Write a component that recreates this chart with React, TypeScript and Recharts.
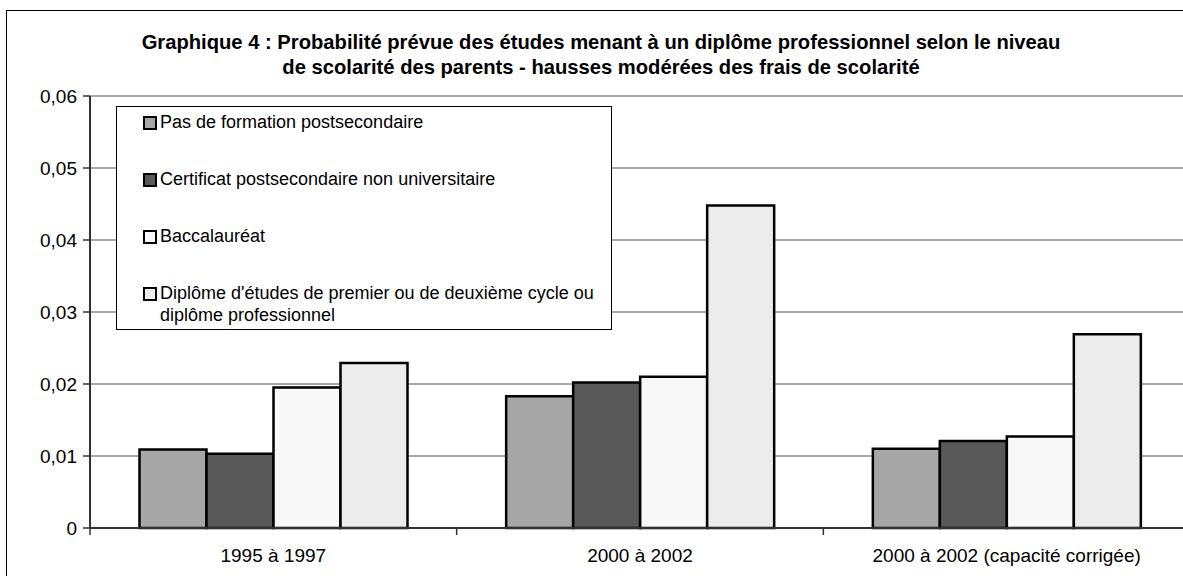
import React from "react";
import { BarChart, Bar, XAxis, YAxis, CartesianGrid, Legend } from "recharts";

const periods = ["1995 à 1997", "2000 à 2002", "2000 à 2002 (capacité corrigée)"];
const pasDeFormation = [0.0109, 0.0183, 0.011];
const certificat = [0.0103, 0.0202, 0.0121];
const baccalaureat = [0.0195, 0.021, 0.0127];
const diplomeSup = [0.0229, 0.0448, 0.0269];
const yTicks = [0, 0.01, 0.02, 0.03, 0.04, 0.05, 0.06];
// category boundaries (integers) and category centres (halves) on a 0..3 scale
const xTicks = [0, 0.5, 1, 1.5, 2, 2.5, 3];

const SERIES = [
  { key: "pas", name: "Pas de formation postsecondaire", color: "#a6a6a6", values: pasDeFormation },
  { key: "cert", name: "Certificat postsecondaire non universitaire", color: "#595959", values: certificat },
  { key: "bac", name: "Baccalauréat", color: "#f8f8f8", values: baccalaureat },
  {
    key: "dip",
    name: "Diplôme d'études de premier ou de deuxième cycle ou diplôme professionnel",
    color: "#ececec",
    values: diplomeSup,
  },
];

const FONT = "'Liberation Sans', Arial, sans-serif";

const data = periods.map((p, i) => {
  const row: Record<string, string | number> = { period: p, idx: i + 0.5 };
  SERIES.forEach((s) => (row[s.key] = s.values[i]));
  return row;
});

function XTick(props: any) {
  const { x, y, payload } = props;
  const v = payload.value as number;
  if (Number.isInteger(v)) {
    return <line x1={x} x2={x} y1={y} y2={y + 7} stroke="#333" strokeWidth={1.5} />;
  }
  return (
    <text x={x} y={y + 34} textAnchor="middle" fill="#000" fontSize={19} fontFamily={FONT}>
      {periods[Math.floor(v)]}
    </text>
  );
}

function LegendBox() {
  return (
    <div
      style={{
        width: 496,
        height: 224,
        boxSizing: "border-box",
        border: "1px solid #000",
        background: "#fff",
        fontFamily: FONT,
        fontSize: 18,
        color: "#000",
        paddingLeft: 26,
        paddingTop: 4,
      }}
    >
      {SERIES.map((s) => (
        <div key={s.key} style={{ display: "flex", alignItems: "flex-start", height: 57, lineHeight: "22px" }}>
          <span
            style={{
              display: "inline-block",
              width: 10,
              height: 10,
              border: "2px solid #000",
              background: s.color,
              marginTop: 5,
              marginRight: 3,
              flex: "none",
            }}
          />
          <span style={{ width: 440 }}>{s.name}</span>
        </div>
      ))}
    </div>
  );
}

export default function App() {
  return (
    <div style={{ position: "absolute", left: 0, top: 0, width: 1183, height: 576, overflow: "hidden", background: "#fff" }}>
      <div
        style={{
          position: "absolute",
          left: 6,
          top: 10,
          width: 1200,
          height: 600,
          border: "1.5px solid #000",
          boxSizing: "border-box",
        }}
      />
      <div
        style={{
          position: "absolute",
          left: 0,
          top: 30,
          width: 1202,
          textAlign: "center",
          fontFamily: FONT,
          fontWeight: "bold",
          fontSize: 20.2,
          lineHeight: "25px",
          color: "#000",
        }}
      >
        Graphique 4 : Probabilité prévue des études menant à un diplôme professionnel selon le niveau
        <br />
        de scolarité des parents - hausses modérées des frais de scolarité
      </div>
      <div style={{ position: "absolute", left: 0, top: 0 }}>
        <BarChart
          width={1183}
          height={576}
          data={data}
          margin={{ top: 96, right: -7, bottom: 18, left: 0 }}
          barCategoryGap="13.5%"
          barGap={0}
          style={{ overflow: "visible" }}
        >
          <CartesianGrid vertical={false} stroke="#555" strokeWidth={1.2} />
          <XAxis dataKey="period" hide height={0} />
          <XAxis
            xAxisId="labels"
            dataKey="idx"
            type="number"
            domain={[0, 3]}
            ticks={xTicks}
            interval={0}
            height={30}
            tickSize={0}
            tickMargin={0}
            tickLine={false}
            axisLine={{ stroke: "#333", strokeWidth: 2 }}
            tick={<XTick />}
          />
          <YAxis
            width={90}
            domain={[0, 0.06]}
            ticks={yTicks}
            interval={0}
            tickFormatter={(v: number) => (v === 0 ? "0" : v.toFixed(2).replace(".", ","))}
            tickLine={{ stroke: "#333", strokeWidth: 1.5 }}
            tickSize={7}
            axisLine={{ stroke: "#333", strokeWidth: 2 }}
            tick={{ fill: "#000", fontSize: 19, fontFamily: FONT }}
            tickMargin={6}
          />
          <Legend
            layout="vertical"
            align="center"
            verticalAlign="middle"
            content={() => <LegendBox />}
            wrapperStyle={{ position: "absolute", left: 116, top: 106, width: 496, height: 224 }}
          />
          {SERIES.map((s) => (
            <Bar
              key={s.key}
              dataKey={s.key}
              name={s.name}
              fill={s.color}
              stroke="#000"
              strokeWidth={2.5}
              isAnimationActive={false}
            />
          ))}
        </BarChart>
      </div>
    </div>
  );
}
